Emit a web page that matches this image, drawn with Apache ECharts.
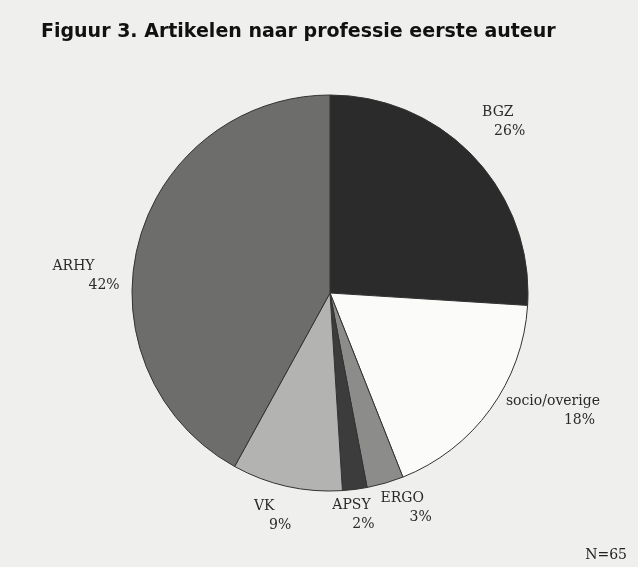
<!DOCTYPE html>
<html>
<head>
<meta charset="utf-8">
<script src="https://cdn.jsdelivr.net/npm/echarts@6/dist/echarts.min.js"></script>
<style>
  html, body { margin: 0; padding: 0; background: #efefed; }
  #chart { width: 638px; height: 567px; }
</style>
</head>
<body>
<div id="chart"></div>
<script>
// categorieen en percentages (professie eerste auteur)
const categories = ['BGZ', 'socio/overige', 'ERGO', 'APSY', 'VK', 'ARHY'];
const percentages = [26, 18, 3, 2, 9, 42];
const sliceColors = ['#2b2b2b', '#fbfbfa', '#8c8c8a', '#3c3c3c', '#b3b3b1', '#6d6d6b'];
// label nudges (dx, dy) vanaf de standaard buitenpositie
const labelNudge = [[-6, -27], [1, -6], [-13, 13], [-29, 14], [12, 18], [-2, 35]];
// inspringing van de percentageregel
const pctIndent = [12, 58, 29, 20, 15, 36];

const chart = echarts.init(document.getElementById('chart'));

const rich = { n: { fontFamily: 'DejaVu Serif', fontSize: 14, color: '#2a2a2a', align: 'left', lineHeight: 19 } };
pctIndent.forEach((p, i) => {
  rich['v' + i] = { fontFamily: 'DejaVu Serif', fontSize: 14, color: '#2a2a2a', align: 'left', lineHeight: 19, padding: [0, 0, 0, p] };
});

const option = {
  backgroundColor: '#efefed',
  animation: false,
  title: [{
    text: 'Figuur 3. Artikelen naar professie eerste auteur',
    left: 36,
    top: 18,
    textStyle: {
      fontFamily: 'DejaVu Sans',
      fontWeight: 'bold',
      fontSize: 19,
      color: '#111'
    }
  }, {
    text: 'N=65',
    right: 6,
    top: 543,
    textStyle: {
      fontFamily: 'DejaVu Serif',
      fontWeight: 'normal',
      fontSize: 14,
      color: '#222'
    }
  }],
  series: [{
    type: 'pie',
    center: [330, 293],
    radius: 198,
    startAngle: 90,
    clockwise: true,
    avoidLabelOverlap: false,
    itemStyle: {
      borderColor: '#333',
      borderWidth: 1
    },
    label: {
      show: true,
      position: 'outside',
      formatter: p => '{n|' + p.name + '}\n{v' + p.dataIndex + '|' + p.value + '%}',
      fontFamily: 'DejaVu Serif',
      color: '#2a2a2a',
      rich: rich
    },
    labelLine: { show: false, length: 12, length2: 0 },
    labelLayout: function (params) {
      const n = labelNudge[params.dataIndex];
      return { dx: n[0], dy: n[1] };
    },
    data: categories.map((c, i) => ({
      name: c,
      value: percentages[i],
      itemStyle: { color: sliceColors[i] }
    }))
  }]
};

chart.setOption(option);
</script>
</body>
</html>
